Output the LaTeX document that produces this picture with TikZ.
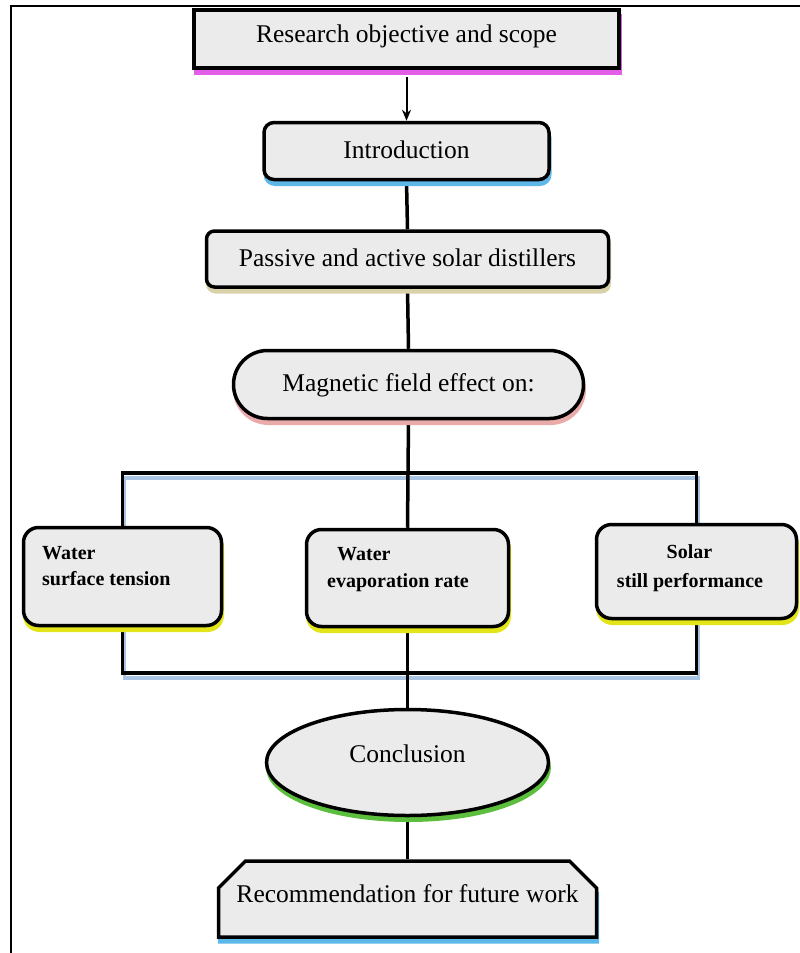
\documentclass[tikz,border=0pt]{standalone}
\usepackage{fontspec}
\setmainfont{Liberation Serif}
\usetikzlibrary{shapes.geometric,shapes.misc,shadows,calc,arrows.meta}
\pgfdeclarelayer{bg}
\pgfsetlayers{bg,main}
\definecolor{boxfill}{HTML}{EBEBEB}
\definecolor{magc}{HTML}{E35EE6}
\definecolor{bluec}{HTML}{5DB7E9}
\definecolor{tanc}{HTML}{D8D1A9}
\definecolor{pinkc}{HTML}{E9AAAA}
\definecolor{yelc}{HTML}{E4E41A}
\definecolor{greenc}{HTML}{5BBE3C}
\definecolor{busc}{HTML}{A9C4E2}
\begin{document}
\begin{tikzpicture}[x=1pt,y=-1pt,
  base/.style={draw=black, line width=3.5pt, fill=boxfill, inner sep=0pt,
    font=\fontsize{25.5}{30}\selectfont, text height=17pt, text depth=3pt},
  shad/.style={general shadow={shadow xshift=1pt, shadow yshift=-5pt, fill=#1, draw=#1, line width=3pt}},
  btext/.style={inner sep=0pt, font=\fontsize{20}{24}\selectfont\bfseries, anchor=base west},
  conn/.style={draw=black, line width=3.5pt},
  busshadow/.style={draw=busc, line width=3.5pt, transform canvas={xshift=2pt, yshift=-5pt}},
  arr/.style={draw=black, line width=2pt, -{Stealth[length=11pt,width=9pt]}}
]
\useasboundingbox (0,0) rectangle (800,953);
% frame
\draw[line width=2.5pt] (11,953) -- (11,6) -- (800,6);

% nodes
\node[base, shad=magc, line width=4.5pt, minimum width=425pt, minimum height=58pt, text depth=11pt]
  (obj) at (406.5,39) {Research objective and scope};
\node[base, shad=bluec, rounded corners=10pt, minimum width=285pt, minimum height=57pt]
  (intro) at (406.5,151) {Introduction};
\node[base, shad=tanc, rounded corners=8pt, minimum width=402pt, minimum height=56pt]
  (pass) at (407.5,259) {Passive and active solar distillers};
\node[base, shad=pinkc, rounded corners=34pt, minimum width=350pt, minimum height=68pt]
  (mag) at (408.5,384.5) {Magnetic field effect on:};

\node[base, shad=yelc, rounded corners=15pt, minimum width=198pt, minimum height=98pt]
  (wst) at (122.5,576.5) {};
\node[base, shad=yelc, rounded corners=15pt, minimum width=202pt, minimum height=97pt]
  (wer) at (407.5,578) {};
\node[base, shad=yelc, rounded corners=15pt, minimum width=200pt, minimum height=94pt]
  (ssp) at (696.5,571.5) {};

\node[btext] (wst1) at (42,559) {Water};
\node[btext] (wst2) at (42,585) {surface tension};
\node[btext] (wer1) at (337,560) {Water};
\node[btext] (wer2) at (327,587) {evaporation rate};
\node[btext, anchor=base] (ssp1) at (689.5,558) {Solar};
\node[btext, anchor=base] (ssp2) at (690,587) {still performance};

\node[base, shad=greenc, ellipse, minimum width=282pt, minimum height=106pt, text depth=17pt]
  (concl) at (407.5,762.5) {Conclusion};
\node[base, shad=bluec, chamfered rectangle, chamfered rectangle corners={north west,north east},
  chamfered rectangle xsep=25pt, chamfered rectangle ysep=13pt,
  minimum width=378pt, minimum height=76pt, text depth=11pt]
  (rec) at (407.5,899) {Recommendation for future work};

\coordinate (bustop) at (408,473);
\coordinate (busbot) at (408,673);

% connectors
\begin{pgfonlayer}{bg}
\draw[busshadow] (wst.north) |- (bustop) -| (ssp.north);
\draw[busshadow] (wst.south) |- (busbot) -| (ssp.south);
\draw[conn] (intro.south) -- (pass.north);
\draw[conn] (pass.south) -- (mag.north);
\draw[conn] (mag.south) -- (wer.north);
\draw[conn] (wst.north) |- (bustop) -| (ssp.north);
\draw[conn] (wst.south) |- (busbot) -| (ssp.south);
\draw[conn] (wer.south) -- (concl.north);
\draw[conn] (concl.south) -- (rec.north);
\end{pgfonlayer}
\draw[arr] ([yshift=-7pt]obj.south) -- (intro.north);
\end{tikzpicture}
\end{document}
